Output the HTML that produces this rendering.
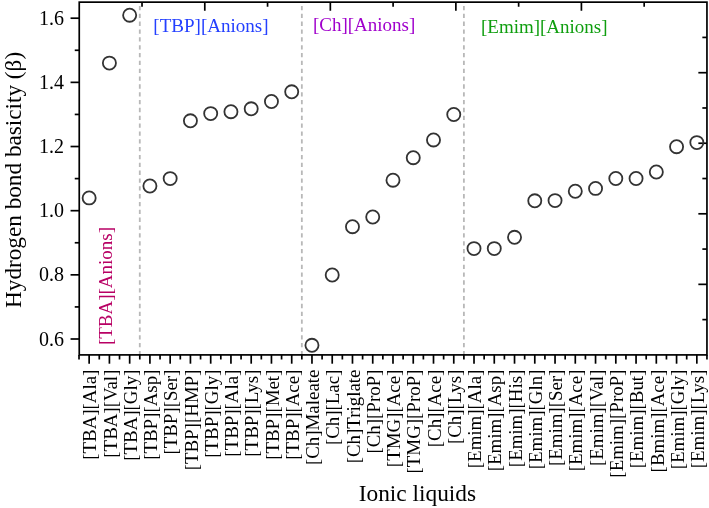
<!DOCTYPE html>
<html><head><meta charset="utf-8"><title>Hydrogen bond basicity of ionic liquids</title>
<style>html,body{margin:0;padding:0;background:#fff}body{width:709px;height:508px;overflow:hidden}svg{display:block;will-change:transform}text{font-family:"Liberation Serif",serif;fill:#000}</style></head><body>
<svg width="709" height="508" viewBox="0 0 709 508">
<rect width="709" height="508" fill="#fff"/>
<g stroke="#b8b8b8" stroke-width="1.8" stroke-dasharray="4.3 3.54" fill="none">
<line x1="139.79" y1="355.20" x2="139.79" y2="5.8"/>
<line x1="301.84" y1="355.20" x2="301.84" y2="5.8"/>
<line x1="463.89" y1="355.20" x2="463.89" y2="5.8"/>
</g>
<g stroke="#000" stroke-width="1.7" fill="none">
<line x1="70.55" y1="339.00" x2="79.25" y2="339.00"/>
<line x1="70.55" y1="274.84" x2="79.25" y2="274.84"/>
<line x1="70.55" y1="210.68" x2="79.25" y2="210.68"/>
<line x1="70.55" y1="146.52" x2="79.25" y2="146.52"/>
<line x1="70.55" y1="82.36" x2="79.25" y2="82.36"/>
<line x1="70.55" y1="18.20" x2="79.25" y2="18.20"/>
<line x1="74.75" y1="306.92" x2="79.25" y2="306.92"/>
<line x1="74.75" y1="242.76" x2="79.25" y2="242.76"/>
<line x1="74.75" y1="178.60" x2="79.25" y2="178.60"/>
<line x1="74.75" y1="114.44" x2="79.25" y2="114.44"/>
<line x1="74.75" y1="50.28" x2="79.25" y2="50.28"/>
<line x1="89.15" y1="354.90" x2="89.15" y2="363.70"/>
<line x1="109.41" y1="354.90" x2="109.41" y2="363.70"/>
<line x1="129.66" y1="354.90" x2="129.66" y2="363.70"/>
<line x1="149.92" y1="354.90" x2="149.92" y2="363.70"/>
<line x1="170.17" y1="354.90" x2="170.17" y2="363.70"/>
<line x1="190.43" y1="354.90" x2="190.43" y2="363.70"/>
<line x1="210.69" y1="354.90" x2="210.69" y2="363.70"/>
<line x1="230.94" y1="354.90" x2="230.94" y2="363.70"/>
<line x1="251.20" y1="354.90" x2="251.20" y2="363.70"/>
<line x1="271.45" y1="354.90" x2="271.45" y2="363.70"/>
<line x1="291.71" y1="354.90" x2="291.71" y2="363.70"/>
<line x1="311.97" y1="354.90" x2="311.97" y2="363.70"/>
<line x1="332.22" y1="354.90" x2="332.22" y2="363.70"/>
<line x1="352.48" y1="354.90" x2="352.48" y2="363.70"/>
<line x1="372.73" y1="354.90" x2="372.73" y2="363.70"/>
<line x1="392.99" y1="354.90" x2="392.99" y2="363.70"/>
<line x1="413.25" y1="354.90" x2="413.25" y2="363.70"/>
<line x1="433.50" y1="354.90" x2="433.50" y2="363.70"/>
<line x1="453.76" y1="354.90" x2="453.76" y2="363.70"/>
<line x1="474.01" y1="354.90" x2="474.01" y2="363.70"/>
<line x1="494.27" y1="354.90" x2="494.27" y2="363.70"/>
<line x1="514.53" y1="354.90" x2="514.53" y2="363.70"/>
<line x1="534.78" y1="354.90" x2="534.78" y2="363.70"/>
<line x1="555.04" y1="354.90" x2="555.04" y2="363.70"/>
<line x1="575.29" y1="354.90" x2="575.29" y2="363.70"/>
<line x1="595.55" y1="354.90" x2="595.55" y2="363.70"/>
<line x1="615.81" y1="354.90" x2="615.81" y2="363.70"/>
<line x1="636.06" y1="354.90" x2="636.06" y2="363.70"/>
<line x1="656.32" y1="354.90" x2="656.32" y2="363.70"/>
<line x1="676.57" y1="354.90" x2="676.57" y2="363.70"/>
<line x1="696.83" y1="354.90" x2="696.83" y2="363.70"/>
<line x1="79.02" y1="354.90" x2="79.02" y2="359.50"/>
<line x1="99.28" y1="354.90" x2="99.28" y2="359.50"/>
<line x1="119.53" y1="354.90" x2="119.53" y2="359.50"/>
<line x1="139.79" y1="354.90" x2="139.79" y2="359.50"/>
<line x1="160.05" y1="354.90" x2="160.05" y2="359.50"/>
<line x1="180.30" y1="354.90" x2="180.30" y2="359.50"/>
<line x1="200.56" y1="354.90" x2="200.56" y2="359.50"/>
<line x1="220.81" y1="354.90" x2="220.81" y2="359.50"/>
<line x1="241.07" y1="354.90" x2="241.07" y2="359.50"/>
<line x1="261.33" y1="354.90" x2="261.33" y2="359.50"/>
<line x1="281.58" y1="354.90" x2="281.58" y2="359.50"/>
<line x1="301.84" y1="354.90" x2="301.84" y2="359.50"/>
<line x1="322.09" y1="354.90" x2="322.09" y2="359.50"/>
<line x1="342.35" y1="354.90" x2="342.35" y2="359.50"/>
<line x1="362.61" y1="354.90" x2="362.61" y2="359.50"/>
<line x1="382.86" y1="354.90" x2="382.86" y2="359.50"/>
<line x1="403.12" y1="354.90" x2="403.12" y2="359.50"/>
<line x1="423.37" y1="354.90" x2="423.37" y2="359.50"/>
<line x1="443.63" y1="354.90" x2="443.63" y2="359.50"/>
<line x1="463.89" y1="354.90" x2="463.89" y2="359.50"/>
<line x1="484.14" y1="354.90" x2="484.14" y2="359.50"/>
<line x1="504.40" y1="354.90" x2="504.40" y2="359.50"/>
<line x1="524.65" y1="354.90" x2="524.65" y2="359.50"/>
<line x1="544.91" y1="354.90" x2="544.91" y2="359.50"/>
<line x1="565.17" y1="354.90" x2="565.17" y2="359.50"/>
<line x1="585.42" y1="354.90" x2="585.42" y2="359.50"/>
<line x1="605.68" y1="354.90" x2="605.68" y2="359.50"/>
<line x1="625.93" y1="354.90" x2="625.93" y2="359.50"/>
<line x1="646.19" y1="354.90" x2="646.19" y2="359.50"/>
<line x1="666.45" y1="354.90" x2="666.45" y2="359.50"/>
<line x1="686.70" y1="354.90" x2="686.70" y2="359.50"/>
<line x1="706.96" y1="354.90" x2="706.96" y2="359.50"/>
<line x1="142.02" y1="2.15" x2="142.02" y2="6.75"/>
<line x1="204.79" y1="2.15" x2="204.79" y2="10.75"/>
<line x1="267.56" y1="2.15" x2="267.56" y2="6.75"/>
<line x1="330.33" y1="2.15" x2="330.33" y2="10.75"/>
<line x1="393.10" y1="2.15" x2="393.10" y2="6.75"/>
<line x1="455.87" y1="2.15" x2="455.87" y2="10.75"/>
<line x1="518.64" y1="2.15" x2="518.64" y2="6.75"/>
<line x1="581.41" y1="2.15" x2="581.41" y2="10.75"/>
<line x1="644.18" y1="2.15" x2="644.18" y2="6.75"/>
<line x1="706.95" y1="37.42" x2="702.35" y2="37.42"/>
<line x1="706.95" y1="72.70" x2="698.35" y2="72.70"/>
<line x1="706.95" y1="107.98" x2="702.35" y2="107.98"/>
<line x1="706.95" y1="143.25" x2="698.35" y2="143.25"/>
<line x1="706.95" y1="178.53" x2="702.35" y2="178.53"/>
<line x1="706.95" y1="213.80" x2="698.35" y2="213.80"/>
<line x1="706.95" y1="249.08" x2="702.35" y2="249.08"/>
<line x1="706.95" y1="284.35" x2="698.35" y2="284.35"/>
<line x1="706.95" y1="319.62" x2="702.35" y2="319.62"/>
<rect x="79.25" y="2.15" width="627.70" height="352.75"/>
</g>
<g stroke="#333" stroke-width="1.8" fill="none">
<circle cx="89.15" cy="197.90" r="6.55"/>
<circle cx="109.41" cy="63.10" r="6.55"/>
<circle cx="129.66" cy="15.20" r="6.55"/>
<circle cx="149.92" cy="186.00" r="6.55"/>
<circle cx="170.17" cy="178.60" r="6.55"/>
<circle cx="190.43" cy="120.80" r="6.55"/>
<circle cx="210.69" cy="113.60" r="6.55"/>
<circle cx="230.94" cy="111.70" r="6.55"/>
<circle cx="251.20" cy="108.80" r="6.55"/>
<circle cx="271.45" cy="101.50" r="6.55"/>
<circle cx="291.71" cy="91.80" r="6.55"/>
<circle cx="311.97" cy="345.30" r="6.55"/>
<circle cx="332.22" cy="275.00" r="6.55"/>
<circle cx="352.48" cy="226.70" r="6.55"/>
<circle cx="372.73" cy="217.00" r="6.55"/>
<circle cx="392.99" cy="180.20" r="6.55"/>
<circle cx="413.25" cy="157.70" r="6.55"/>
<circle cx="433.50" cy="139.96" r="6.55"/>
<circle cx="453.76" cy="114.50" r="6.55"/>
<circle cx="474.01" cy="248.60" r="6.55"/>
<circle cx="494.27" cy="248.60" r="6.55"/>
<circle cx="514.53" cy="237.30" r="6.55"/>
<circle cx="534.78" cy="200.80" r="6.55"/>
<circle cx="555.04" cy="200.60" r="6.55"/>
<circle cx="575.29" cy="191.25" r="6.55"/>
<circle cx="595.55" cy="188.40" r="6.55"/>
<circle cx="615.81" cy="178.50" r="6.55"/>
<circle cx="636.06" cy="178.50" r="6.55"/>
<circle cx="656.32" cy="172.00" r="6.55"/>
<circle cx="676.57" cy="146.70" r="6.55"/>
<circle cx="696.83" cy="142.60" r="6.55"/>
</g>
<g font-size="20" text-anchor="end">
<text transform="translate(64 345.55) scale(1 1.02)">0.6</text>
<text transform="translate(64 281.39) scale(1 1.02)">0.8</text>
<text transform="translate(64 217.23) scale(1 1.02)">1.0</text>
<text transform="translate(64 153.07) scale(1 1.02)">1.2</text>
<text transform="translate(64 88.91) scale(1 1.02)">1.4</text>
<text transform="translate(64 24.75) scale(1 1.02)">1.6</text>
</g>
<g font-size="18.9" text-anchor="end">
<text transform="translate(96.35 369.6) rotate(-90) scale(1 1.04)">[TBA][Ala]</text>
<text transform="translate(116.61 369.6) rotate(-90) scale(1 1.04)">[TBA][Val]</text>
<text transform="translate(136.86 369.6) rotate(-90) scale(1 1.04)">[TBA][Gly]</text>
<text transform="translate(157.12 369.6) rotate(-90) scale(1 1.04)">[TBP][Asp]</text>
<text transform="translate(177.37 369.6) rotate(-90) scale(1 1.04)">[TBP][Ser]</text>
<text transform="translate(197.63 369.6) rotate(-90) scale(1 1.04)">[TBP][HMP]</text>
<text transform="translate(217.89 369.6) rotate(-90) scale(1 1.04)">[TBP][Gly]</text>
<text transform="translate(238.14 369.6) rotate(-90) scale(1 1.04)">[TBP][Ala]</text>
<text transform="translate(258.40 369.6) rotate(-90) scale(1 1.04)">[TBP][Lys]</text>
<text transform="translate(278.65 369.6) rotate(-90) scale(1 1.04)">[TBP][Met]</text>
<text transform="translate(298.91 369.6) rotate(-90) scale(1 1.04)">[TBP][Ace]</text>
<text transform="translate(319.17 369.6) rotate(-90) scale(1 1.04)">[Ch]Maleate</text>
<text transform="translate(339.42 369.6) rotate(-90) scale(1 1.04)">[Ch][Lac]</text>
<text transform="translate(359.68 369.6) rotate(-90) scale(1 1.04)">[Ch]Triglate</text>
<text transform="translate(379.93 369.6) rotate(-90) scale(1 1.04)">[Ch][ProP]</text>
<text transform="translate(400.19 369.6) rotate(-90) scale(1 1.04)">[TMG][Ace]</text>
<text transform="translate(420.45 369.6) rotate(-90) scale(1 1.04)">[TMG][ProP]</text>
<text transform="translate(440.70 369.6) rotate(-90) scale(1 1.04)">[Ch][Ace]</text>
<text transform="translate(460.96 369.6) rotate(-90) scale(1 1.04)">[Ch][Lys]</text>
<text transform="translate(481.21 369.6) rotate(-90) scale(1 1.04)">[Emim][Ala]</text>
<text transform="translate(501.47 369.6) rotate(-90) scale(1 1.04)">[Emim][Asp]</text>
<text transform="translate(521.73 369.6) rotate(-90) scale(1 1.04)">[Emim][His]</text>
<text transform="translate(541.98 369.6) rotate(-90) scale(1 1.04)">[Emim][Gln]</text>
<text transform="translate(562.24 369.6) rotate(-90) scale(1 1.04)">[Emim][Ser]</text>
<text transform="translate(582.49 369.6) rotate(-90) scale(1 1.04)">[Emim][Ace]</text>
<text transform="translate(602.75 369.6) rotate(-90) scale(1 1.04)">[Emim][Val]</text>
<text transform="translate(623.01 369.6) rotate(-90) scale(1 1.04)">[Emim][ProP]</text>
<text transform="translate(643.26 369.6) rotate(-90) scale(1 1.04)">[Emim][But]</text>
<text transform="translate(663.52 369.6) rotate(-90) scale(1 1.04)">[Bmim][Ace]</text>
<text transform="translate(683.77 369.6) rotate(-90) scale(1 1.04)">[Emim][Gly]</text>
<text transform="translate(704.03 369.6) rotate(-90) scale(1 1.04)">[Emim][Lys]</text>
</g>
<text font-size="23.22" text-anchor="middle" transform="translate(20.7 179.9) rotate(-90) scale(1 1.02)">Hydrogen bond basicity (β)</text>
<text font-size="23.36" text-anchor="middle" transform="translate(417.4 500.5)">Ionic liquids</text>
<text font-size="19.05" transform="translate(153.3 31.5) scale(1 1.03)" style="fill:#2440ff">[TBP][Anions]</text>
<text font-size="19.0" transform="translate(313 31.4) scale(1 1.03)" style="fill:#a000cc">[Ch][Anions]</text>
<text font-size="19.0" transform="translate(481 32.7) scale(1 1.03)" style="fill:#0f9e0f">[Emim][Anions]</text>
<text font-size="19.0" transform="translate(111.6 345.1) rotate(-90) scale(1 1.04)" style="fill:#b80064">[TBA][Anions]</text>
</svg></body></html>
